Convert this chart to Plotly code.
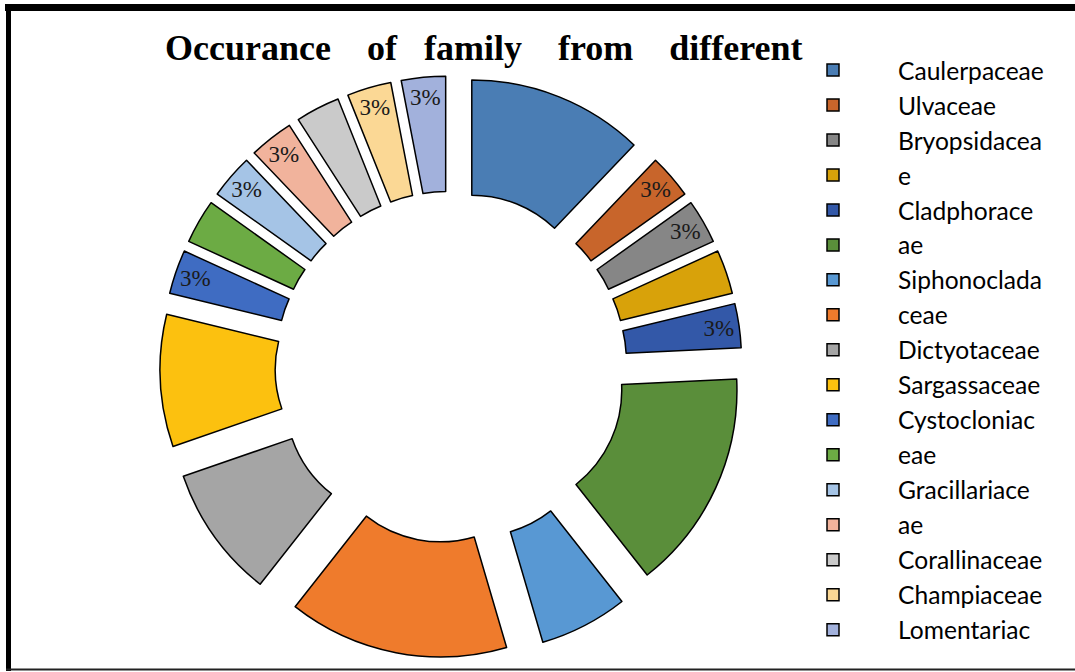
import plotly.graph_objects as go

# Legend text lines exactly as they appear (wrapped) in the reference legend
legend_lines = ["Caulerpaceae", "Ulvaceae", "Bryopsidacea", "e", "Cladphorace", "ae",
                "Siphonoclada", "ceae", "Dictyotaceae", "Sargassaceae", "Cystocloniac",
                "eae", "Gracillariace", "ae\u00a0", "Corallinaceae", "Champiaceae", "Lomentariac"]
# counts per slice (slice order clockwise from 12 o'clock)
counts = [4, 1, 1, 1, 1, 5, 2, 5, 3, 3, 1, 1, 1, 1, 1, 1, 1]
colors = ["#4a7db4", "#c8652b", "#868686", "#d8a20a", "#3358a8", "#5a8e3a",
          "#5898d3", "#ef7b2c", "#a5a5a5", "#fcc10f", "#3f6cc2", "#6cab44",
          "#a5c4e6", "#f1b39c", "#cacaca", "#fbd895", "#a2b1dc"]
# which slices show a percentage data label in the reference
show_label = [False, True, True, False, True, False, False, False, False, False,
              True, False, True, True, False, True, True]

title_words = ["Occurance", "of", "family", "from", "different"]
gaps = [4, 3, 4, 4]

title_text = title_words[0]
for w, g in zip(title_words[1:], gaps):
    title_text += "\u00a0" * g + w

W, H = 1075, 672

fig = go.Figure(go.Pie(
    labels=legend_lines,
    values=counts,
    sort=False,
    direction="clockwise",
    rotation=0,
    hole=0.51,
    pull=0.238,
    marker=dict(colors=colors, line=dict(color="#000000", width=1.5)),
    texttemplate=["%{percent:.0%}" if s else "" for s in show_label],
    textposition="inside",
    insidetextorientation="horizontal",
    textfont=dict(family="Liberation Serif, Times New Roman, serif", size=23, color="#1a1a1a"),
    domain=dict(x=[160 / W, 742 / W], y=[(H - 658) / H, (H - 76) / H]),
    hoverinfo="label+percent",
))

fig.update_layout(
    width=W, height=H,
    margin=dict(l=0, r=0, t=0, b=0),
    paper_bgcolor="white",
    plot_bgcolor="white",
    uniformtext=dict(minsize=23, mode="show"),
    title=dict(text=title_text, x=165 / W, xanchor="left", xref="paper",
               y=1 - 47 / H, yanchor="middle", yref="container",
               font=dict(family="Liberation Serif, Times New Roman, serif", size=36,
                         color="#000000", weight="bold")),
    showlegend=True,
    legend=dict(x=768 / W, xanchor="left", y=1 - 47.5 / H, yanchor="top",
                bgcolor="rgba(0,0,0,0)", itemwidth=120,
                font=dict(family="Lato, Calibri, sans-serif", size=24.6, color="#000000"),
                traceorder="normal"),
    shapes=[
        dict(type="line", xref="paper", yref="paper", x0=5 / W, x1=1, y0=1 - 7.5 / H, y1=1 - 7.5 / H,
             line=dict(color="#000000", width=7)),
        dict(type="line", xref="paper", yref="paper", x0=8.5 / W, x1=8.5 / W, y0=1 - 4 / H, y1=1 - 671 / H,
             line=dict(color="#000000", width=5)),
        dict(type="line", xref="paper", yref="paper", x0=6 / W, x1=1, y0=1 - 669.5 / H, y1=1 - 669.5 / H,
             line=dict(color="#222222", width=2)),
    ],
)

fig.write_html("out.html")
